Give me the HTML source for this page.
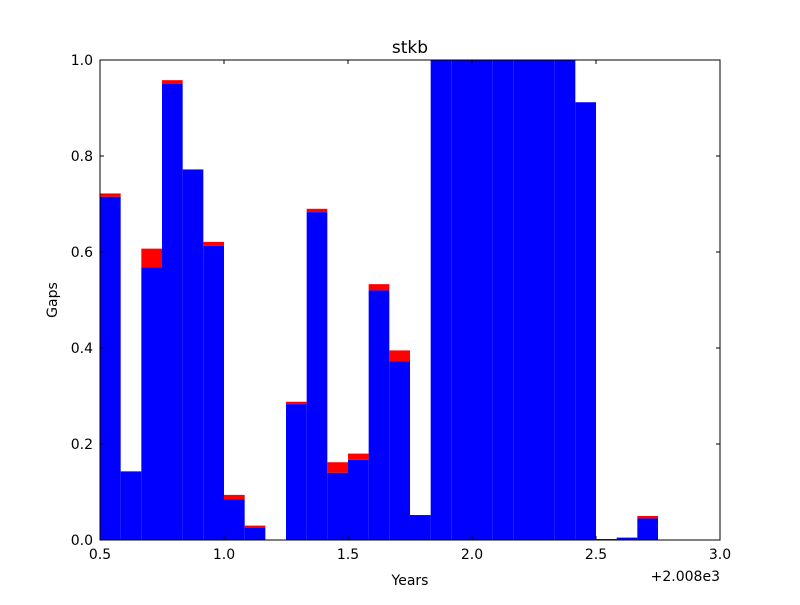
<!DOCTYPE html>
<html><head><meta charset="utf-8"><style>
body{margin:0;background:#fff;}
svg text{font-family:"DejaVu Sans","Liberation Sans",sans-serif;}
</style></head><body>
<svg id="chart" width="800" height="600" xmlns="http://www.w3.org/2000/svg">
<rect width="800" height="600" fill="#fff"/>
<g id="bars"></g>
<g id="axes"></g>
</svg>
<script>
const starts=[0.5,0.5833,0.6667,0.75,0.8333,0.9167,1.0,1.0833,1.1667,1.25,1.3333,1.4167,1.5,1.5833,1.6667,1.75,1.8333,1.9167,2.0,2.0833,2.1667,2.25,2.3333,2.4167,2.5,2.5833,2.6667];
const blueVals=[0.715,0.143,0.568,0.95,0.772,0.613,0.085,0.025,0,0.283,0.683,0.14,0.167,0.52,0.372,0.052,1,1,1,1,1,1,1,0.912,0.002,0.005,0.045];
const totalVals=[0.722,0.143,0.607,0.958,0.772,0.621,0.094,0.03,0,0.288,0.69,0.162,0.18,0.533,0.395,0.052,1,1,1,1,1,1,1,0.912,0.002,0.005,0.05];
const binWidth=1/12;
const xTicks=[0.5,1.0,1.5,2.0,2.5,3.0];
const xTickLabels=["0.5","1.0","1.5","2.0","2.5","3.0"];
const yTicks=[0,0.2,0.4,0.6,0.8,1.0];
const yTickLabels=["0.0","0.2","0.4","0.6","0.8","1.0"];
const L=100,R=720,T=60,B=540;
const xs=v=>L+(v-0.5)/2.5*(R-L);
const ys=v=>B-v*(B-T);
const NS="http://www.w3.org/2000/svg";
function mk(t,a,p){const e=document.createElementNS(NS,t);for(const k in a)e.setAttribute(k,a[k]);p.appendChild(e);return e;}
const bars=document.getElementById('bars'),axes=document.getElementById('axes');
starts.forEach((s,i)=>{
  const x0=xs(s),x1=xs(s+binWidth);
  if(totalVals[i]>blueVals[i]){
    const r=mk('rect',{x:x0,y:ys(totalVals[i]),width:x1-x0,height:ys(blueVals[i])-ys(totalVals[i]),fill:'#ff0000'},bars);
    
    
  }
  if(blueVals[i]>0){
    const b=mk('rect',{x:x0,y:ys(blueVals[i]),width:x1-x0,height:B-ys(blueVals[i]),fill:'#0000ff'},bars);
    
    
  }
});
const frame=mk('rect',{x:L,y:T,width:R-L,height:B-T,fill:'none',stroke:'#000','stroke-width':1},axes);


xTicks.forEach((v,i)=>{
  const x=xs(v);
  mk('line',{x1:x,y1:B,x2:x,y2:B-4,stroke:'#000'},axes);
  mk('line',{x1:x,y1:T,x2:x,y2:T+4,stroke:'#000'},axes);
  const t=mk('text',{x:x,y:B+19,'text-anchor':'middle','font-size':14},axes);
  t.textContent=xTickLabels[i];
  
  
});
yTicks.forEach((v,i)=>{
  const y=ys(v);
  mk('line',{x1:L,y1:y,x2:L+4,y2:y,stroke:'#000'},axes);
  mk('line',{x1:R,y1:y,x2:R-4,y2:y,stroke:'#000'},axes);
  const t=mk('text',{x:L-7,y:y+5,'text-anchor':'end','font-size':14},axes);
  t.textContent=yTickLabels[i];
  
  
});
const off=mk('text',{x:720,y:581,'text-anchor':'end','font-size':14},axes);
off.textContent="+2.008e3";


const xt=mk('text',{x:410,y:585,'text-anchor':'middle','font-size':14},axes);
xt.textContent="Years";


const yt=mk('text',{x:57,y:300,'text-anchor':'middle','font-size':14,transform:'rotate(-90 57 300)'},axes);
yt.textContent="Gaps";


const tt=mk('text',{x:410,y:53,'text-anchor':'middle','font-size':17},axes);
tt.textContent="stkb";


</script>
</body></html>
